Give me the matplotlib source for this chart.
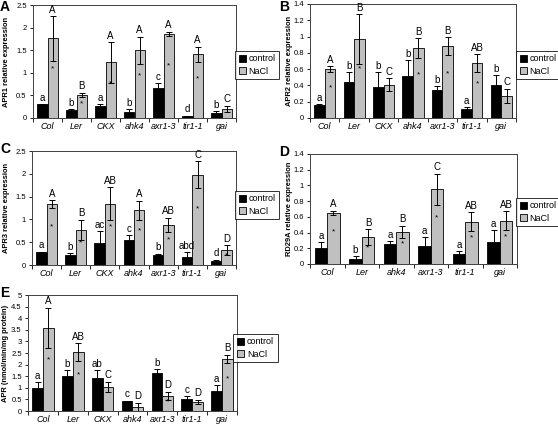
import matplotlib.pyplot as plt
import numpy as np

plt.rcParams['font.family'] = ['Liberation Sans', 'DejaVu Sans']

# --- dados ---
genotypes = ['Col', 'Ler', 'CKX', 'ahk4', 'axr1-3', 'tir1-1', 'gai']
genotypes_d = ['Col', 'Ler', 'ahk4', 'axr1-3', 'tir1-1', 'gai']

# A - APR1
a_ctrl = [0.30, 0.17, 0.26, 0.14, 0.67, 0.04, 0.12]
a_ctrl_err = [0.01, 0.02, 0.04, 0.06, 0.10, 0.01, 0.03]
a_nacl = [1.76, 0.51, 1.23, 1.50, 1.86, 1.41, 0.20]
a_nacl_err = [0.49, 0.05, 0.45, 0.30, 0.05, 0.17, 0.07]
a_ctrl_lbl = ['a', 'b', 'a', 'b', 'c', 'd', 'b']
a_nacl_lbl = ['A', 'B', 'A', 'A', 'A', 'A', 'C']
a_star = [1, 1, 1, 1, 1, 1, 0]

# B - APR2
b_ctrl = [0.16, 0.44, 0.38, 0.52, 0.34, 0.11, 0.41]
b_ctrl_err = [0.01, 0.12, 0.18, 0.19, 0.05, 0.02, 0.12]
b_nacl = [0.60, 0.97, 0.41, 0.86, 0.88, 0.67, 0.27]
b_nacl_err = [0.04, 0.31, 0.08, 0.12, 0.11, 0.11, 0.09]
b_ctrl_lbl = ['a', 'b', 'b', 'b', 'b', 'a', 'b']
b_nacl_lbl = ['A', 'B', 'C', 'B', 'B', 'AB', 'C']
b_star = [1, 1, 0, 1, 1, 1, 0]

# C - APR3
c_ctrl = [0.28, 0.23, 0.48, 0.55, 0.23, 0.18, 0.08]
c_ctrl_err = [0.01, 0.03, 0.26, 0.10, 0.02, 0.10, 0.04]
c_nacl = [1.34, 0.77, 1.34, 1.20, 0.88, 1.98, 0.33]
c_nacl_err = [0.08, 0.22, 0.36, 0.21, 0.16, 0.30, 0.11]
c_ctrl_lbl = ['a', 'b', 'ac', 'c', 'b', 'abd', 'd']
c_nacl_lbl = ['A', 'B', 'AB', 'A', 'AB', 'C', 'D']
c_star = [1, 1, 1, 1, 1, 1, 1]

# D - RD29A
d_ctrl = [0.21, 0.06, 0.25, 0.23, 0.13, 0.28]
d_ctrl_err = [0.07, 0.04, 0.04, 0.11, 0.03, 0.15]
d_nacl = [0.65, 0.34, 0.41, 0.95, 0.54, 0.55]
d_nacl_err = [0.03, 0.10, 0.08, 0.20, 0.12, 0.12]
d_ctrl_lbl = ['a', 'b', 'a', 'a', 'a', 'a']
d_nacl_lbl = ['A', 'B', 'B', 'C', 'AB', 'AB']
d_star = [1, 1, 1, 1, 1, 1]

# E - APR activity
e_ctrl = [0.97, 1.53, 1.42, 0.42, 1.62, 0.50, 0.87]
e_ctrl_err = [0.28, 0.23, 0.35, 0.02, 0.19, 0.13, 0.23]
e_nacl = [3.58, 2.53, 1.05, 0.18, 0.65, 0.40, 2.25]
e_nacl_err = [0.87, 0.38, 0.22, 0.17, 0.18, 0.08, 0.17]
e_ctrl_lbl = ['a', 'b', 'ab', 'c', 'b', 'c', 'a']
e_nacl_lbl = ['A', 'AB', 'C', 'D', 'D', 'D', 'B']
e_star = [1, 1, 0, 0, 1, 0, 1]

W, H = 558, 425
fig = plt.figure(figsize=(W / 100, H / 100), dpi=100)


def px_axes(left, top, right, bottom):
    # cria eixo a partir de coordenadas em pixels
    return fig.add_axes([left / W, 1 - bottom / H, (right - left) / W, (bottom - top) / H])


def panel(rect, cats, ctrl, ctrl_err, nacl, nacl_err, ctrl_lbl, nacl_lbl, star,
          ymax, ystep, ylabel, label_x, letter, letter_xy, leg_rect, off):
    ax = px_axes(*rect)
    x = np.arange(len(cats))
    w = 0.36
    ax.bar(x - w / 2, ctrl, w, color='black', edgecolor='black', linewidth=0.6,
           yerr=ctrl_err, error_kw=dict(ecolor='black', elinewidth=0.7, capsize=2.5, capthick=0.7),
           label='control', zorder=2)
    ax.bar(x + w / 2, nacl, w, color='#c0c0c0', edgecolor='black', linewidth=0.6,
           yerr=nacl_err, error_kw=dict(ecolor='black', elinewidth=0.7, capsize=2.5, capthick=0.7),
           label='NaCl', zorder=2)
    for i in range(len(cats)):
        ax.text(x[i] - w / 2, ctrl[i] + ctrl_err[i] + off, ctrl_lbl[i], ha='center',
                va='bottom', fontsize=7)
        ax.text(x[i] + w / 2, nacl[i] + nacl_err[i] + off, nacl_lbl[i], ha='center',
                va='bottom', fontsize=7)
        if star[i]:
            ax.text(x[i] + w / 2, nacl[i] * 0.62, '*', ha='center', va='center', fontsize=6)
    ax.set_xlim(-0.5, len(cats) - 0.5)
    ax.set_ylim(0, ymax)
    ticks = np.arange(0, ymax + ystep / 2, ystep)
    ax.set_yticks(ticks)
    ax.set_yticklabels(['%g' % v for v in ticks], fontsize=5.5)
    ax.set_xticks(x)
    ax.set_xticklabels(cats, fontsize=6.5, style='italic')
    ax.tick_params(axis='x', length=0, pad=3)
    ax.tick_params(axis='y', length=2.5, width=0.6, pad=2)
    ax.set_xticks(np.arange(-0.5, len(cats), 1), minor=True)
    ax.tick_params(axis='x', which='minor', length=3, width=0.6, direction='out')
    for s in ax.spines.values():
        s.set_linewidth(0.7)
        s.set_color('#404040')
    ax.set_ylabel(ylabel, fontsize=5.4, fontweight='bold')
    ax.yaxis.set_label_coords((label_x - rect[0]) / (rect[2] - rect[0]), 0.5)
    fig.text(letter_xy[0] / W, 1 - letter_xy[1] / H, letter, fontsize=10,
             fontweight='bold', ha='left', va='top')
    lax = px_axes(*leg_rect)
    lax.axis('off')
    h, l = ax.get_legend_handles_labels()
    lax.legend(h, l, loc='center', fontsize=6.5, frameon=True, fancybox=False,
               edgecolor='black', borderpad=0.4, handlelength=0.8, handleheight=0.8,
               handletextpad=0.3, labelspacing=0.4, borderaxespad=0).get_frame().set_linewidth(0.7)
    return ax


panel((33, 5, 236, 118), genotypes, a_ctrl, a_ctrl_err, a_nacl, a_nacl_err,
      a_ctrl_lbl, a_nacl_lbl, a_star, 2.5, 0.5, 'APR1 relative expression', 10, 'A', (0, 0),
      (237, 50, 277, 80), 0.03)
panel((310, 4, 516, 118), genotypes, b_ctrl, b_ctrl_err, b_nacl, b_nacl_err,
      b_ctrl_lbl, b_nacl_lbl, b_star, 1.4, 0.2, 'APR2 relative expression', 293, 'B', (279, 0),
      (521, 50, 555, 80), 0.015)
panel((32, 151, 236, 265), genotypes, c_ctrl, c_ctrl_err, c_nacl, c_nacl_err,
      c_ctrl_lbl, c_nacl_lbl, c_star, 2.5, 0.5, 'APR3 relative expression', 10, 'C', (0, 142),
      (237, 190, 277, 220), 0.03)
panel((310, 154, 517, 264), genotypes_d, d_ctrl, d_ctrl_err, d_nacl, d_nacl_err,
      d_ctrl_lbl, d_nacl_lbl, d_star, 1.4, 0.2, 'RD29A relative expression', 293, 'D', (279, 145),
      (521, 197, 555, 227), 0.015)
panel((28, 295, 237, 411), genotypes, e_ctrl, e_ctrl_err, e_nacl, e_nacl_err,
      e_ctrl_lbl, e_nacl_lbl, e_star, 5, 0.5, 'APR (nmol/min/mg protein)', 9.5, 'E', (0, 286),
      (233, 333, 278, 363), 0.06)

plt.savefig('out.png', dpi=100)
plt.close()
